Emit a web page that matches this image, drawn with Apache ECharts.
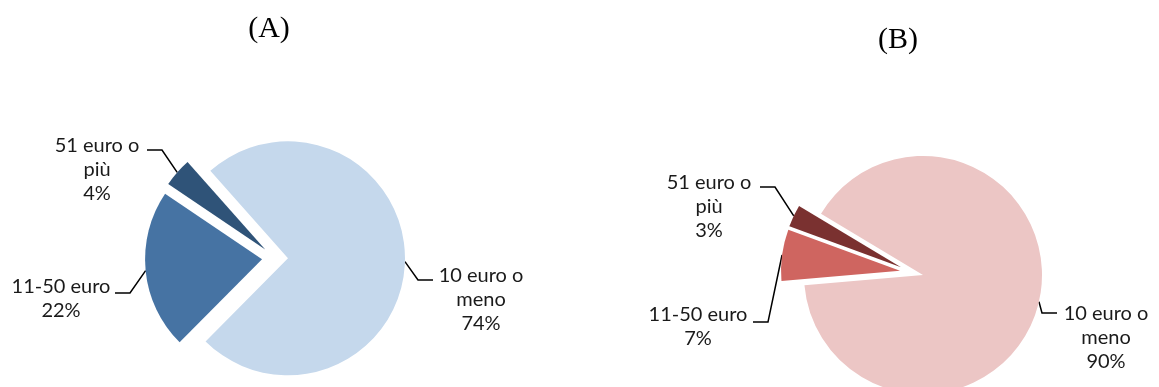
<!DOCTYPE html>
<html>
<head>
<meta charset="utf-8">
<script src="https://cdn.jsdelivr.net/npm/echarts@6/dist/echarts.min.js"></script>
<style>
  html, body { margin: 0; padding: 0; background: #fff; }
  #chart { width: 1159px; height: 387px; }
</style>
</head>
<body>
<div id="chart"></div>
<script>
// Spending brackets (shared by both pies)
const categories = ['10 euro o\nmeno', '11-50 euro', '51 euro o\npiù'];
// Share of respondents per bracket, %
const valuesA = [74, 22, 4];
const valuesB = [90, 7, 3];
const titles = ['(A)', '(B)'];

const coloursA = ['#C5D8EC', '#4673A3', '#2F5378'];
const coloursB = ['#ECC6C5', '#CF6560', '#7A3130'];

// Label placement per slice: text centre, elbow and end of the leader line
const labelGeomA = [
  { x: 481, y: 300, elbow: [418, 280], end: [433, 280] },
  { x: 61,  y: 299, elbow: [130, 293], end: [115, 293] },
  { x: 97,  y: 170, elbow: [162, 150], end: [147, 150] }
];
const labelGeomB = [
  { x: 1106, y: 338, elbow: [1042, 313], end: [1057, 313] },
  { x: 698,  y: 327, elbow: [768, 322],  end: [753, 322] },
  { x: 709,  y: 207, elbow: [775, 187],  end: [760, 187] }
];

const labelFont = { fontFamily: 'Lato', fontSize: 20, lineHeight: 24, color: '#1a1a1a' };

// One pie series per slice: every series carries the full data so the
// angles line up, only its own slice is painted, and its centre is pushed
// out along that slice's bisector (exploded pie).
function explodedPie(values, colours, geom, center, radius, startAngle, offset) {
  const total = values.reduce((a, b) => a + b, 0);
  let cum = 0;
  return values.map((v, k) => {
    const mid = (startAngle - 360 * (cum + v / 2) / total) * Math.PI / 180;
    cum += v;
    const c = [center[0] + offset * Math.cos(mid), center[1] - offset * Math.sin(mid)];
    return {
      type: 'pie',
      center: c,
      radius: radius,
      startAngle: startAngle,
      clockwise: true,
      animation: false,
      avoidLabelOverlap: false,
      silent: true,
      emphasis: { disabled: true },
      data: values.map((val, i) => ({
        name: categories[i],
        value: val,
        itemStyle: { color: i === k ? colours[i] : 'rgba(0,0,0,0)' },
        label: { show: i === k },
        labelLine: { show: i === k }
      })),
      label: Object.assign({ position: 'outside', formatter: '{b}\n{d}%', align: 'center' }, labelFont),
      labelLine: { length: 10, length2: 10, lineStyle: { color: '#000', width: 1.5 } },
      labelLayout: function (p) {
        const g = geom[p.dataIndex];
        const start = p.labelLinePoints ? p.labelLinePoints[0] : g.elbow;
        return {
          x: g.x, y: g.y, align: 'center', verticalAlign: 'middle',
          labelLinePoints: [start, g.elbow, g.end]
        };
      }
    };
  });
}

const chart = echarts.init(document.getElementById('chart'), null, { renderer: 'canvas' });
chart.setOption({
  animation: false,
  graphic: [
    { type: 'text', x: 269, y: 29,
      style: { text: titles[0], align: 'center', verticalAlign: 'middle',
               font: '30px "Liberation Serif"', fill: '#000' } },
    { type: 'text', x: 898, y: 40,
      style: { text: titles[1], align: 'center', verticalAlign: 'middle',
               font: '30px "Liberation Serif"', fill: '#000' } }
  ],
  series: [].concat(
    explodedPie(valuesA, coloursA, labelGeomA, [275, 258], 117, 131.6, 13),
    explodedPie(valuesB, coloursB, labelGeomB, [911.6, 272.3], 119, 149, 11.7)
  )
});
</script>
</body>
</html>
